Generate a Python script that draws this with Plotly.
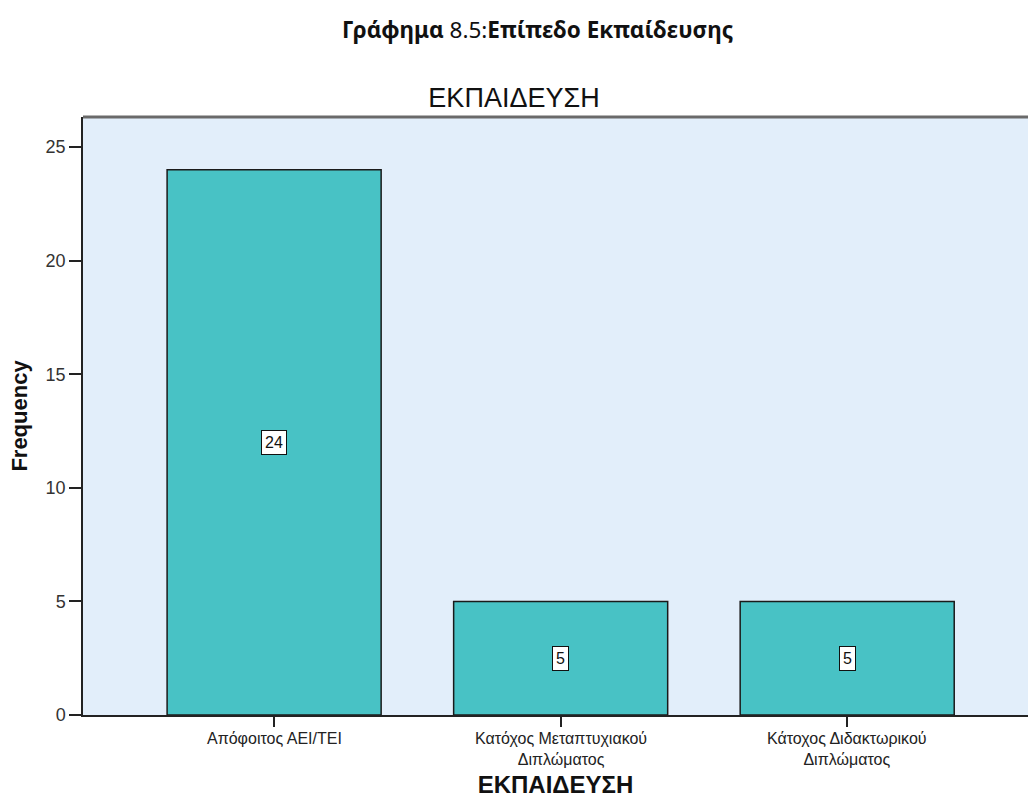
import plotly.graph_objects as go

# Education level frequencies
categories = ["Απόφοιτος ΑΕΙ/ΤΕΙ", "Κατόχος Μεταπτυχιακού<br>Διπλώματος", "Κάτοχος Διδακτωρικού<br>Διπλώματος"]
frequencies = [24, 5, 5]
y_ticks = [0, 5, 10, 15, 20, 25]

bar_color = "#48C2C5"
plot_bg = "#E2EEFA"
axis_font = "Liberation Sans, Arial, sans-serif"

fig = go.Figure()
fig.add_trace(go.Bar(
    x=list(range(len(categories))),
    y=frequencies,
    marker=dict(color=bar_color, line=dict(color="#1a1a1a", width=1.5)),
    hoverinfo="skip",
))

# Value labels in white boxes at the middle of each bar
for i, v in enumerate(frequencies):
    fig.add_annotation(
        x=i, y=v / 2, text=str(v), showarrow=False,
        font=dict(family=axis_font, size=16, color="#111"),
        bgcolor="white", bordercolor="#111", borderwidth=1, borderpad=3,
    )

# Category labels under the axis, top-aligned just below the ticks
for i, cat in enumerate(categories):
    fig.add_annotation(
        x=i, xref="x", y=0, yref="paper", yanchor="top",
        yshift=-13, text=cat, showarrow=False,
        font=dict(family=axis_font, size=16, color="#222"),
    )

# Figure caption above the chart
fig.add_annotation(
    xref="paper", yref="paper", x=(537 - 83) / 945, y=1 + (117 - 30) / 598,
    xanchor="center", yanchor="middle",
    text="<b>Γράφημα</b> 8.5:<b>Επίπεδο Εκπαίδευσης</b>",
    showarrow=False, font=dict(family="Noto Sans, sans-serif", size=22.5, color="#111"),
)

# Thick grey frame line on top of the plot area
fig.add_shape(type="line", xref="paper", yref="paper", x0=0, x1=1, y0=1, y1=1,
              line=dict(color="#6a6a6a", width=3))

fig.update_layout(
    width=1028, height=798,
    margin=dict(l=83, r=0, t=117, b=83),
    paper_bgcolor="white",
    plot_bgcolor=plot_bg,
    bargap=0.253,
    showlegend=False,
    title=dict(text="ΕΚΠΑΙΔΕΥΣΗ", x=0.5, xref="container", xanchor="center",
               y=1 - 98 / 798, yref="container", yanchor="middle",
               font=dict(family=axis_font, size=27, color="#111")),
    xaxis=dict(
        range=[-0.667, 2.631],
        tickvals=list(range(len(categories))), showticklabels=False,
        ticks="outside", ticklen=10, tickwidth=1.5, tickcolor="#222",
        showline=True, linecolor="#222", linewidth=1.5,
        showgrid=False, zeroline=False,
        title=dict(text="<b>ΕΚΠΑΙΔΕΥΣΗ</b>", standoff=56,
                   font=dict(family=axis_font, size=24, color="#111")),
    ),
    yaxis=dict(
        range=[0, 26.32],
        tickvals=y_ticks,
        ticks="outside", ticklen=12, tickwidth=1.5, tickcolor="#222",
        showline=True, linecolor="#222", linewidth=1.5,
        showgrid=False, zeroline=False,
        tickfont=dict(family=axis_font, size=18, color="#333"),
        title=dict(text="<b>Frequency</b>", standoff=12,
                   font=dict(family=axis_font, size=22, color="#111")),
    ),
)

fig.write_html("out.html")
